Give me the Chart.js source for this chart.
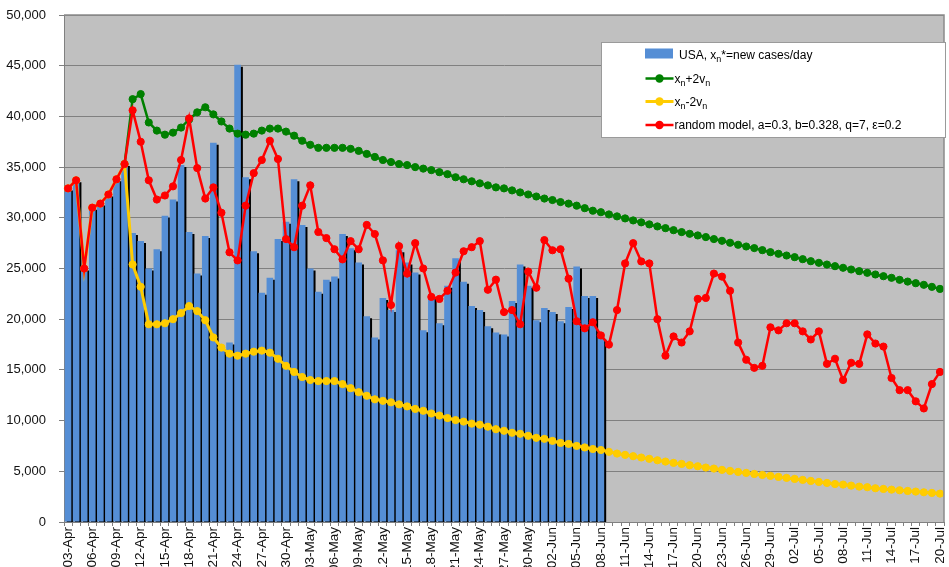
<!DOCTYPE html>
<html>
<head>
<meta charset="utf-8">
<title>USA new cases per day and random model</title>
<script src="https://cdn.jsdelivr.net/npm/chart.js@4/dist/chart.umd.min.js"></script>
<style>
  html, body { margin: 0; padding: 0; background: #fff; overflow: hidden; }
  #wrap { width: 949px; height: 567px; }
</style>
</head>
<body>
<div id="wrap"><canvas id="c" width="949" height="567"></canvas></div>
<script>
// Days from 03-Apr to 20-Jul
const days = [
  '03-Apr','04-Apr','05-Apr','06-Apr','07-Apr','08-Apr','09-Apr','10-Apr','11-Apr','12-Apr',
  '13-Apr','14-Apr','15-Apr','16-Apr','17-Apr','18-Apr','19-Apr','20-Apr','21-Apr','22-Apr',
  '23-Apr','24-Apr','25-Apr','26-Apr','27-Apr','28-Apr','29-Apr','30-Apr',
  '01-May','02-May','03-May','04-May','05-May','06-May','07-May','08-May','09-May','10-May',
  '11-May','12-May','13-May','14-May','15-May','16-May','17-May','18-May','19-May','20-May',
  '21-May','22-May','23-May','24-May','25-May','26-May','27-May','28-May','29-May','30-May','31-May',
  '01-Jun','02-Jun','03-Jun','04-Jun','05-Jun','06-Jun','07-Jun','08-Jun','09-Jun','10-Jun',
  '11-Jun','12-Jun','13-Jun','14-Jun','15-Jun','16-Jun','17-Jun','18-Jun','19-Jun','20-Jun',
  '21-Jun','22-Jun','23-Jun','24-Jun','25-Jun','26-Jun','27-Jun','28-Jun','29-Jun','30-Jun',
  '01-Jul','02-Jul','03-Jul','04-Jul','05-Jul','06-Jul','07-Jul','08-Jul','09-Jul','10-Jul',
  '11-Jul','12-Jul','13-Jul','14-Jul','15-Jul','16-Jul','17-Jul','18-Jul','19-Jul','20-Jul'
];

// Observed new cases per day (03-Apr .. 08-Jun)
const newCases = [
  32900, 33700, 25000, 31000, 31400, 32300, 33800, 35300, 28500, 27700,
  25000, 26900, 30200, 31800, 35200, 28600, 24500, 28200, 37400, 17200,
  17700, 45100, 34000, 26700, 22600, 24100, 27900, 29600, 33800, 29300,
  25000, 22700, 23900, 24200, 28400, 27000, 25600, 20300, 18200, 22100,
  20900, 26800, 25600, 24600, 18900, 22200, 19600, 23300, 26000, 23700,
  21300, 20900, 19300, 18700, 18500, 21800, 25400, 23300, 19900, 21100,
  20700, 19800, 21200, 25200, 22300, 22300, 18200
];

// Upper band x_n + 2 v_n
const upperBand = [
  null, null, null, null, null, null, null, 35300, 41700, 42200,
  39400, 38600, 38200, 38400, 38900, 39700, 40400, 40900, 40200, 39500,
  38800, 38300, 38200, 38300, 38600, 38800, 38800, 38500, 38100, 37600,
  37200, 36900, 36900, 36900, 36900, 36800, 36600, 36300, 36000, 35700,
  35500, 35300, 35200, 35000, 34850, 34700, 34500, 34300, 34000, 33800,
  33600, 33400, 33200, 33000, 32900, 32700, 32500, 32300, 32100, 31900,
  31750, 31550, 31400, 31200, 30950, 30700, 30550, 30330, 30140, 29940,
  29740, 29550, 29350, 29150, 28980, 28780, 28590, 28420, 28260, 28100,
  27900, 27730, 27540, 27340, 27170, 27010, 26810, 26610, 26450, 26280,
  26120, 25920, 25720, 25560, 25390, 25230, 25070, 24900, 24740, 24570,
  24410, 24240, 24080, 23880, 23710, 23550, 23390, 23190, 22990
];

// Lower band x_n - 2 v_n
const lowerBand = [
  32900, 33700, 25000, 31000, 31400, 32300, 33800, 35300, 25400, 23200,
  19500, 19500, 19600, 20000, 20600, 21300, 20800, 19900, 18200, 17200,
  16600, 16400, 16600, 16800, 16900, 16700, 16100, 15400, 14800, 14300,
  14000, 13900, 13900, 13900, 13600, 13200, 12800, 12450, 12100, 11950,
  11800, 11600, 11400, 11150, 10970, 10700, 10500, 10250, 10050, 9900,
  9700, 9600, 9400, 9150, 9000, 8800, 8700, 8500, 8300, 8200,
  8000, 7800, 7700, 7500, 7350, 7200, 7100, 6920, 6750, 6620,
  6490, 6360, 6230, 6090, 5960, 5830, 5730, 5600, 5500, 5370,
  5270, 5140, 5040, 4940, 4840, 4740, 4640, 4550, 4450, 4350,
  4250, 4150, 4050, 3950, 3850, 3750, 3690, 3590, 3490, 3430,
  3330, 3260, 3190, 3130, 3060, 3000, 2930, 2870, 2800
];

// Random model, a=0.3, b=0.328, q=7, eps=0.2
const randomModel = [
  32900, 33700, 25000, 31000, 31400, 32300, 33800, 35300, 40600, 37500,
  33700, 31800, 32200, 33100, 35700, 39800, 34900, 31900, 33000, 30500,
  26600, 25800, 31200, 34400, 35700, 37600, 35800, 27900, 27100, 31200,
  33200, 28600, 28000, 26900, 25900, 27700, 26900, 29300, 28400, 25800,
  21400, 27200, 24500, 27500, 25000, 22200, 22000, 22800, 24600, 26700,
  27100, 27700, 22900, 23900, 20700, 20900, 19500, 24700, 23100, 27800,
  26800, 26900, 24000, 19800, 19100, 19700, 18400, 17500, 20900, 25500,
  27500, 25700, 25500, 20000, 16400, 18300, 17700, 18800, 22000, 22100,
  24500, 24200, 22800, 17700, 16000, 15200, 15400, 19200, 18900, 19600,
  19600, 18800, 18000, 18800, 15600, 16100, 14000, 15700, 15600, 18500,
  17600, 17300, 14200, 13000, 13000, 11900, 11200, 13600, 14800
];

const yTicks = { min: 0, max: 50000, step: 5000 };

const COLORS = {
  bar: '#558ED5',
  upper: '#008000',
  lower: '#FFCC00',
  model: '#FF0000',
  plotBg: '#C0C0C0',
  grid: '#808080'
};

const FONT = '"Liberation Sans", Arial, sans-serif';
Chart.defaults.font.family = FONT;

// Silver plot background and frame
const plotFrame = {
  id: 'plotFrame',
  beforeDraw(chart) {
    const { ctx, chartArea: a } = chart;
    ctx.save();
    ctx.fillStyle = COLORS.plotBg;
    ctx.fillRect(a.left, a.top, a.right - a.left, a.bottom - a.top);
    ctx.restore();
  },
  afterDatasetsDraw(chart) {
    const { ctx, chartArea: a } = chart;
    ctx.save();
    ctx.strokeStyle = '#8a8a8a';
    ctx.lineWidth = 1.5;
    ctx.beginPath();
    ctx.moveTo(a.left, a.top);
    ctx.lineTo(a.right, a.top);
    ctx.lineTo(a.right, a.bottom);
    ctx.stroke();
    ctx.restore();
  }
};

// Black drop shadow on the columns
const barShadow = {
  id: 'barShadow',
  beforeDatasetDraw(chart, args) {
    if (args.meta.type !== 'bar') return;
    const ctx = chart.ctx;
    ctx.save();
    ctx.shadowColor = '#000';
    ctx.shadowOffsetX = 2;
    ctx.shadowOffsetY = 2;
    ctx.shadowBlur = 0;
  },
  afterDatasetDraw(chart, args) {
    if (args.meta.type !== 'bar') return;
    chart.ctx.restore();
  }
};

// Text runs with subscripts
function drawRuns(ctx, runs, x, y) {
  let cx = x;
  for (const r of runs) {
    if (r.sub) {
      ctx.font = '9px ' + FONT;
      ctx.fillText(r.t, cx, y + 3);
    } else {
      ctx.font = '12px ' + FONT;
      ctx.fillText(r.t, cx, y);
    }
    cx += ctx.measureText(r.t).width;
  }
}

const legendItems = [
  { kind: 'box', color: COLORS.bar,
    runs: [{ t: 'USA, x' }, { t: 'n', sub: true }, { t: '*=new cases/day' }] },
  { kind: 'line', color: COLORS.upper,
    runs: [{ t: 'x' }, { t: 'n', sub: true }, { t: '+2v' }, { t: 'n', sub: true }] },
  { kind: 'line', color: COLORS.lower,
    runs: [{ t: 'x' }, { t: 'n', sub: true }, { t: '-2v' }, { t: 'n', sub: true }] },
  { kind: 'line', color: COLORS.model,
    runs: [{ t: 'random model, a=0.3, b=0.328, q=7, \u03b5=0.2' }] }
];

const boxLegend = {
  id: 'boxLegend',
  afterDraw(chart) {
    const { ctx, chartArea: a } = chart;
    const w = 344, h = 95;
    const left = Math.round(a.right - w + 1) + 0.5;
    const top = Math.round(a.top + 27) + 0.5;
    ctx.save();
    ctx.fillStyle = '#fff';
    ctx.fillRect(left, top, w, h);
    ctx.strokeStyle = '#9a9a9a';
    ctx.lineWidth = 1;
    ctx.strokeRect(left, top, w, h);
    ctx.textBaseline = 'alphabetic';
    ctx.fillStyle = '#000';
    const rows = [12, 36, 59, 82.5];
    legendItems.forEach((it, i) => {
      const cy = top + rows[i];
      if (it.kind === 'box') {
        ctx.fillStyle = it.color;
        ctx.fillRect(left + 43.5, cy - 6, 28, 10);
        ctx.fillStyle = '#000';
        drawRuns(ctx, it.runs, left + 77.5, cy + 4);
      } else {
        ctx.strokeStyle = it.color;
        ctx.lineWidth = it.color === COLORS.lower ? 3 : 2.5;
        ctx.beginPath();
        ctx.moveTo(left + 44, cy);
        ctx.lineTo(left + 72, cy);
        ctx.stroke();
        ctx.fillStyle = it.color;
        ctx.beginPath();
        ctx.arc(left + 58, cy, 4.2, 0, Math.PI * 2);
        ctx.fill();
        ctx.fillStyle = '#000';
        drawRuns(ctx, it.runs, left + 73, cy + 4);
      }
    });
    ctx.restore();
  }
};

function lineSet(label, data, color, width, order) {
  return {
    type: 'line',
    label,
    data,
    order,
    borderColor: color,
    backgroundColor: color,
    borderWidth: width,
    pointRadius: 3.6,
    pointBorderWidth: 1,
    pointBorderColor: color,
    pointBackgroundColor: color,
    tension: 0,
    spanGaps: false
  };
}

new Chart(document.getElementById('c'), {
  data: {
    labels: days,
    datasets: [
      lineSet('random model', randomModel, COLORS.model, 2.5, 1),
      lineSet('xn-2vn', lowerBand, COLORS.lower, 3, 2),
      lineSet('xn+2vn', upperBand, COLORS.upper, 2.5, 3),
      {
        type: 'bar',
        label: 'USA, xn*=new cases/day',
        data: newCases,
        order: 4,
        backgroundColor: COLORS.bar,
        borderWidth: 0,
        barPercentage: 0.82,
        categoryPercentage: 1.0
      }
    ]
  },
  options: {
    responsive: false,
    animation: false,
    devicePixelRatio: 1,
    layout: { padding: { top: 15, right: 3, left: 0, bottom: 0 } },
    plugins: {
      legend: { display: false },
      tooltip: { enabled: false }
    },
    scales: {
      x: {
        type: 'category',
        offset: true,
        grid: {
          offset: true,
          drawOnChartArea: false,
          drawTicks: true,
          tickLength: 4,
          color: COLORS.grid
        },
        border: { display: true, color: COLORS.grid, width: 1 },
        ticks: {
          autoSkip: false,
          minRotation: 90,
          maxRotation: 90,
          padding: 1,
          color: '#111',
          font: { size: 13.5 },
          callback(value, index) {
            return index % 3 === 0 ? days[index] : '';
          }
        },
        afterFit(scale) {
          scale.height = 45;
          scale.paddingLeft = 0;
          scale.paddingRight = 0;
        }
      },
      y: {
        min: yTicks.min,
        max: yTicks.max,
        grid: {
          color: COLORS.grid,
          lineWidth: 1,
          drawTicks: true,
          tickLength: 5
        },
        border: { display: true, color: COLORS.grid, width: 1 },
        ticks: {
          stepSize: yTicks.step,
          padding: 13,
          color: '#111',
          font: { size: 13 },
          callback(v) { return v.toLocaleString('en-US'); }
        },
        afterFit(scale) {
          scale.width = 64;
          scale.paddingTop = 0;
          scale.paddingBottom = 0;
        }
      }
    }
  },
  plugins: [plotFrame, barShadow, boxLegend]
});
</script>
</body>
</html>
